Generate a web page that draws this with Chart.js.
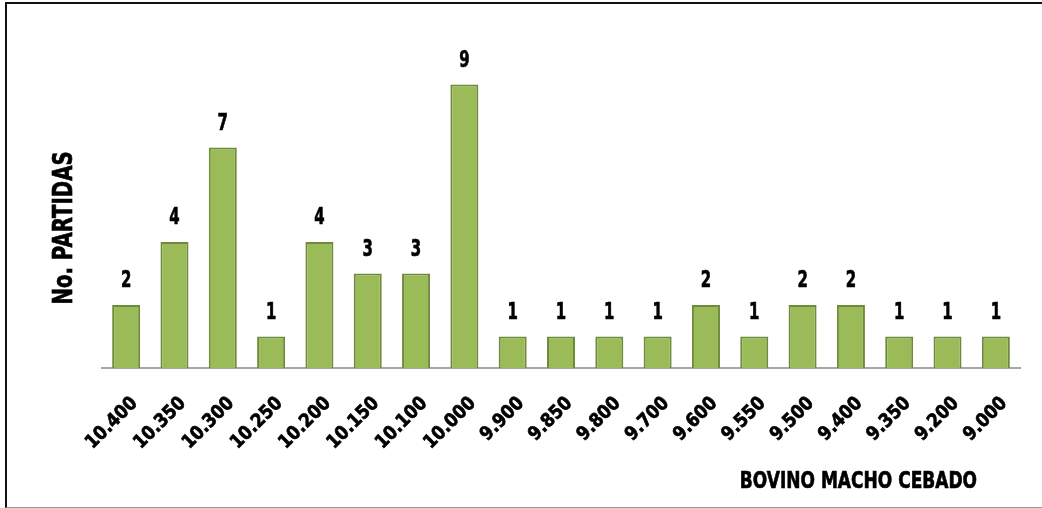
<!DOCTYPE html>
<html>
<head>
<meta charset="utf-8">
<script src="https://cdn.jsdelivr.net/npm/chart.js@4"></script>
<style>
    body { margin: 0; background: #fff; }
    #frame {
        position: absolute; left: 5px; top: 2px; width: 1100px; height: 503px;
        border-top: 2px solid #111; border-left: 2px solid #111; border-bottom: 1px solid #999;
    }
    #wrap { position: absolute; left: 0; top: 0; width: 1042px; height: 508px; }
</style>
</head>
<body>
<div id="frame"></div>
<div id="wrap"><canvas id="partidaschart"></canvas></div>
<script>
const categories = ['10.400', '10.350', '10.300', '10.250', '10.200', '10.150', '10.100', '10.000', '9.900', '9.850',
    '9.800', '9.700', '9.600', '9.550', '9.500', '9.400', '9.350', '9.200', '9.000'];
const partidas = [2, 4, 7, 1, 4, 3, 3, 9, 1, 1, 1, 1, 2, 1, 2, 2, 1, 1, 1];
const yTitle = 'No. PARTIDAS';
const xTitle = 'BOVINO MACHO CEBADO';

const fontFamily = '"DejaVu Sans", sans-serif';

// narrow bold text (no condensed font installed, so squeeze it)
function drawtext(ctx, text, x, y, angle, sx, size, align) {
    ctx.save();
    ctx.translate(x, y);
    ctx.rotate(angle);
    ctx.scale(sx, 1);
    ctx.font = 'bold ' + size + 'px ' + fontFamily;
    ctx.textAlign = align;
    ctx.textBaseline = 'alphabetic';
    ctx.fillStyle = '#000';
    ctx.strokeStyle = '#000';
    ctx.lineWidth = 0.7;
    ctx.fillText(text, 0, 0);
    ctx.strokeText(text, 0, 0);
    ctx.restore();
}

const labelsplugin = {
    id: 'labels',
    afterDatasetsDraw(chart) {
        const ctx = chart.ctx;
        const area = chart.chartArea;
        const xscale = chart.scales.x;

        // values over the bars
        chart.getDatasetMeta(0).data.forEach((bar, i) => {
            drawtext(ctx, String(partidas[i]), bar.x, bar.y - 18, 0, 0.65, 23, 'center');
        });

        // category labels at 45 degrees
        categories.forEach((c, i) => {
            const x = xscale.getPixelForTick(i);
            drawtext(ctx, c, x + 12, area.bottom + 36, -Math.PI / 4, 0.88, 19, 'right');
        });

        drawtext(ctx, xTitle, area.right - 43, 488, 0, 0.74, 23, 'right');
        drawtext(ctx, yTitle, 72, 228, -Math.PI / 2, 0.73, 27, 'center');
    }
};

const data = {
    labels: categories,
    datasets: [
        {
            label: 'partidas',
            data: partidas,
            backgroundColor: '#9BBB59',
            borderColor: '#6F8A3A',
            borderWidth: 2,
            categoryPercentage: 1,
            barPercentage: 0.58
        }
    ]
};

const barconfig = {
    type: 'bar',
    data: data,
    options: {
        responsive: true,
        maintainAspectRatio: false,
        animation: false,
        layout: {
            padding: { left: 102, right: 22, top: 53, bottom: 0 }
        },
        plugins: {
            legend: { display: false },
            tooltip: { enabled: false }
        },
        scales: {
            x: {
                grid: { display: false },
                border: { color: '#A6A6A6', width: 2 },
                ticks: { display: false },
                afterFit: (axis) => { axis.height = 140; }
            },
            y: {
                display: false,
                min: 0,
                max: 10
            }
        }
    },
    plugins: [labelsplugin]
};

new Chart(document.getElementById('partidaschart'), barconfig);
</script>
</body>
</html>
